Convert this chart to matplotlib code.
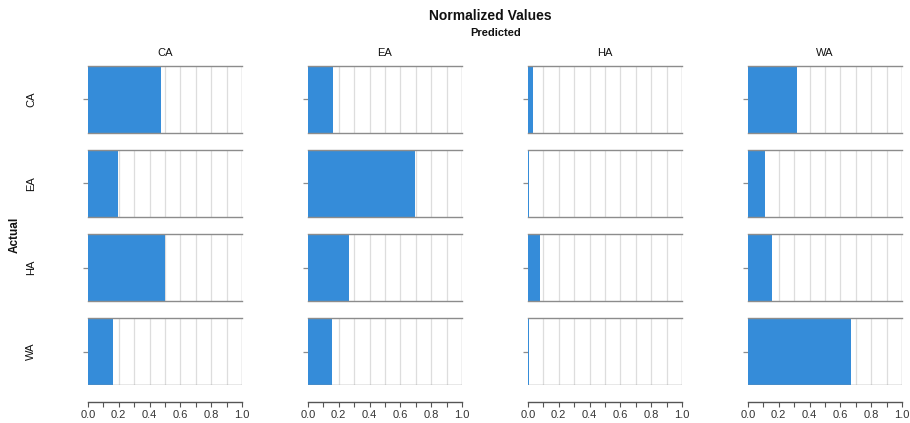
import numpy as np
import matplotlib.pyplot as plt

plt.rcParams['font.family'] = ['Liberation Sans', 'DejaVu Sans']

classes = ["CA", "EA", "HA", "WA"]
# rows = actual class, columns = predicted class (row-normalized)
values = [
    [0.474, 0.162, 0.035, 0.318],
    [0.195, 0.695, 0.008, 0.110],
    [0.500, 0.266, 0.078, 0.156],
    [0.162, 0.154, 0.006, 0.667],
]
xticks = [0.0, 0.2, 0.4, 0.6, 0.8, 1.0]

bar_color = "#358cd9"
W, H = 910, 423
PX = 0.72  # points per pixel at dpi 100
fig = plt.figure(figsize=(W / 100, H / 100), dpi=100)

col_left = [88, 308, 528, 748]
row_top = [66, 150, 234, 318]
pw, ph = 154, 67

for i, actual in enumerate(classes):
    for j, pred in enumerate(classes):
        ax = fig.add_axes([col_left[j] / W, 1 - (row_top[i] + ph) / H, pw / W, ph / H])
        ax.set_xlim(0, 1)
        ax.set_ylim(-0.5, 0.5)
        for g in np.arange(0.1, 1.0, 0.1):
            ax.axvline(g, color="#dddddd", lw=0.9, zorder=1)
        ax.axvline(1.0, color="#bbbbbb", lw=1.0, zorder=1)
        ax.barh(0, values[i][j], height=1.0, color=bar_color, zorder=2)
        for s in ["left", "right"]:
            ax.spines[s].set_visible(False)
        ax.spines["top"].set_color("#8c8c8c")
        ax.spines["bottom"].set_color("#8c8c8c")
        ax.spines["top"].set_linewidth(1.0)
        ax.spines["bottom"].set_linewidth(1.0)
        ax.set_yticks([0])
        ax.set_yticklabels([])
        ax.tick_params(axis="y", length=5 * PX, color="#8c8c8c", width=0.9, pad=2)
        if i == 3:
            # separate bottom axis below the last row
            ax.axhline(-0.5, color="#8c8c8c", lw=1.0, zorder=3)
            ax.spines["bottom"].set_position(("outward", 17 * PX))
            ax.spines["bottom"].set_color("#555555")
            ax.set_xticks(xticks)
            ax.set_xticks(np.arange(0.1, 1.0, 0.2), minor=True)
            ax.set_xticklabels([f"{t:.1f}" for t in xticks], fontsize=8, color="#333333")
            ax.tick_params(axis="x", which="both", length=5 * PX, color="#555555",
                           width=0.8, pad=2)
        else:
            ax.set_xticks([])
        if i == 0:
            ax.set_title(pred, fontsize=8, pad=7, color="#111111")
        if j == 0:
            fig.text(31 / W, 1 - (row_top[i] + ph / 2) / H, actual, rotation=90,
                     ha="center", va="center", fontsize=8, color="#111111")

fig.text(490 / W, 1 - 16 / H, "Normalized Values", ha="center", va="center",
         fontsize=10, fontweight="bold", color="#111111")
fig.text(496 / W, 1 - 33 / H, "Predicted", ha="center", va="center",
         fontsize=8, fontweight="bold", color="#111111")
fig.text(15 / W, 1 - 235 / H, "Actual", rotation=90, ha="center", va="center",
         fontsize=8.5, fontweight="bold", color="#111111")

fig.savefig("out.png", dpi=100)
